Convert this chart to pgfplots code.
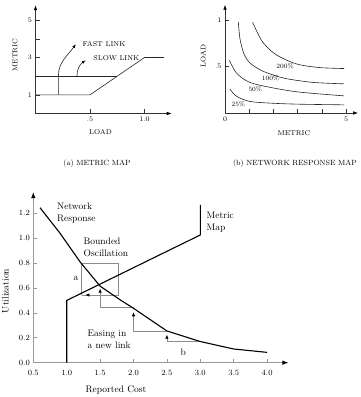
\documentclass[border=0pt]{standalone}
\usepackage{pgfplots}
\pgfplotsset{compat=1.18}
\usetikzlibrary{arrows.meta}
\begin{document}
\begin{tikzpicture}
\pgfplotsset{
  sketch/.style={
    axis lines=left, clip=false, tick align=inside,
    axis line style={black!80, line width=0.6pt, -{Latex[black,length=5pt,width=3.5pt]}},
    tick style={black!80, line width=0.5pt},
    major tick length=4pt,
    /pgf/number format/assume math mode=true,
    tick label style={font=\fontsize{7}{8}\selectfont},
  }
}
% ---------------- (a) METRIC MAP ----------------
\begin{axis}[sketch, at={(35.5pt,283.5pt)}, anchor=south west,
  x=109pt, y=18.67pt, xmin=0, xmax=1.25, ymin=0, ymax=5.8,
  xtick={0.5,1}, xticklabels={.5,1.0},
  ytick={1,2,3,4,5}, yticklabels={1,,3,,5}]
\addplot[black!85, line width=0.6pt] coordinates {(0,1) (0.5,1) (1.0,3) (1.18,3)};
\addplot[black!85, line width=0.6pt] coordinates {(0,2) (0.75,2)};
\draw[black!85, line width=0.6pt, -{Latex[black,length=4pt,width=3pt]}]
  (axis cs:0.21,1) -- (axis cs:0.21,2) to[out=90,in=235] (axis cs:0.37,3.72);
\draw[black!85, line width=0.6pt, -{Latex[black,length=4pt,width=3pt]}]
  (axis cs:0.38,2) to[out=90,in=215] (axis cs:0.46,2.85);
\node[anchor=west, font=\fontsize{7}{8}\selectfont, inner sep=0pt] at (axis cs:0.43,3.73) {FAST LINK};
\node[anchor=west, font=\fontsize{7}{8}\selectfont, inner sep=0pt] at (axis cs:0.53,2.95) {SLOW LINK};
\end{axis}
% ---------------- (b) NETWORK RESPONSE MAP ----------------
\begin{axis}[sketch, at={(225pt,284pt)}, anchor=south west,
  x=24.2pt, y=92.6pt, xmin=0, xmax=5.5, ymin=0, ymax=1.17,
  xtick={0,1,2,3,4,5}, xticklabels={0,,,,,5},
  ytick={0.5,1}, yticklabels={.5,1}]
\addplot[black!85, line width=0.6pt, smooth] coordinates {(1.14,0.98) (1.52,0.78) (2.0,0.65) (2.55,0.57) (3.1,0.52) (3.93,0.49) (4.92,0.48)};
\addplot[black!85, line width=0.6pt, smooth] coordinates {(0.55,0.985) (0.62,0.8) (0.78,0.64) (1.03,0.54) (1.5,0.46) (2.0,0.41) (2.55,0.37) (3.65,0.33) (4.92,0.315)};
\addplot[black!85, line width=0.6pt, smooth] coordinates {(0.18,0.57) (0.48,0.43) (1.03,0.33) (2.0,0.27) (3.1,0.225) (4.92,0.185)};
\addplot[black!85, line width=0.6pt, smooth] coordinates {(0.2,0.26) (0.48,0.18) (1.03,0.125) (2.0,0.105) (3.1,0.095) (4.92,0.088)};
\node[font=\fontsize{6.5}{7}\selectfont, inner sep=0pt] at (axis cs:2.48,0.51) {200\%};
\node[font=\fontsize{6.5}{7}\selectfont, inner sep=0pt] at (axis cs:1.88,0.375) {100\%};
\node[font=\fontsize{6.5}{7}\selectfont, inner sep=0pt] at (axis cs:1.25,0.255) {50\%};
\node[font=\fontsize{6.5}{7}\selectfont, inner sep=0pt] at (axis cs:0.55,0.09) {25\%};
\end{axis}
% ---------------- (c) Utilization vs Reported Cost ----------------
\begin{axis}[sketch, at={(33.3pt,34.3pt)}, anchor=south west,
  x=66.8pt, y=124.5pt, xmin=0.5, xmax=4.32, ymin=0, ymax=1.37,
  axis line style={gray!80, line width=0.9pt, -{Latex[black,length=6pt,width=4.5pt]}},
  tick style={gray!80, line width=0.7pt},
  xtick={0.5,1,1.5,2,2.5,3,3.5,4}, ytick={0,0.2,0.4,0.6,0.8,1.0,1.2},
  xticklabel style={/pgf/number format/.cd, fixed, fixed zerofill, precision=1, /tikz/.cd, yshift=-4pt},
  yticklabel style={/pgf/number format/.cd, fixed, fixed zerofill, precision=1},
  tick label style={font=\fontsize{8}{9}\selectfont}]
\addplot[gray!90, line width=0.7pt] coordinates {(1.225,0.544) (1.225,0.8) (1.77,0.8) (1.77,0.544) (1.225,0.544)};
\draw[gray!90, line width=0.7pt, -{Latex[black,length=4pt,width=3.5pt]}] (axis cs:1.45,0.544) -- (axis cs:1.28,0.544);
\addplot[gray!90, line width=0.7pt, -{Latex[black,length=4pt,width=3.5pt]}] coordinates {(3.0,0.17) (2.5,0.17) (2.5,0.225)};
\addplot[gray!90, line width=0.7pt, -{Latex[black,length=4pt,width=3.5pt]}] coordinates {(2.5,0.25) (2.0,0.25) (2.0,0.405)};
\addplot[gray!90, line width=0.7pt, -{Latex[black,length=4pt,width=3.5pt]}] coordinates {(2.0,0.445) (1.5,0.445) (1.5,0.595)};
\addplot[black, line width=1.1pt] coordinates {(0.6,1.245) (0.9,1.04) (1.2,0.81) (1.5,0.615) (1.8,0.505) (2.0,0.437) (2.5,0.255) (3.0,0.17) (3.5,0.11) (4.0,0.083)};
\addplot[black, line width=1.1pt] coordinates {(1.0,0) (1.0,0.5) (3.0,1.026) (3.0,1.267)};
\end{axis}
% ---------------- text ----------------
\node[rotate=90, font=\fontsize{7}{8}\selectfont] at (15pt,342pt) {METRIC};
\node[font=\fontsize{7}{8}\selectfont] at (100.5pt,265.3pt) {LOAD};
\node[font=\fontsize{7.5}{9}\selectfont] at (97pt,233pt) {(a) METRIC MAP};
\node[rotate=90, font=\fontsize{7}{8}\selectfont] at (203.3pt,341.3pt) {LOAD};
\node[font=\fontsize{7}{8}\selectfont] at (294pt,264.3pt) {METRIC};
\node[font=\fontsize{7.5}{9}\selectfont] at (295pt,233pt) {(b) NETWORK RESPONSE MAP};
\node[anchor=west, align=left, inner sep=0pt, font=\fontsize{9.5}{12.5}\selectfont] at (57pt,184pt) {Network\\Response};
\node[anchor=west, align=left, inner sep=0pt, font=\fontsize{9.5}{12.5}\selectfont] at (206.5pt,175pt) {Metric\\Map};
\node[anchor=west, align=left, inner sep=0pt, font=\fontsize{9.5}{12}\selectfont] at (83.5pt,149.5pt) {Bounded\\Oscillation};
\node[inner sep=0pt, font=\fontsize{9.5}{12}\selectfont] at (76pt,118.7pt) {a};
\node[anchor=west, align=left, inner sep=0pt, font=\fontsize{9.5}{12}\selectfont] at (87.5pt,58pt) {Easing in\\a new link};
\node[inner sep=0pt, font=\fontsize{9.5}{12}\selectfont] at (183.3pt,44.3pt) {b};
\node[font=\fontsize{9.5}{12}\selectfont] at (116pt,6.5pt) {Reported Cost};
\node[rotate=90, anchor=base, font=\fontsize{9.5}{12}\selectfont] at (8.5pt,106pt) {Utilization};
\pgfresetboundingbox
\path[use as bounding box] (0,0) rectangle (360pt,397pt);
\end{tikzpicture}
\end{document}
